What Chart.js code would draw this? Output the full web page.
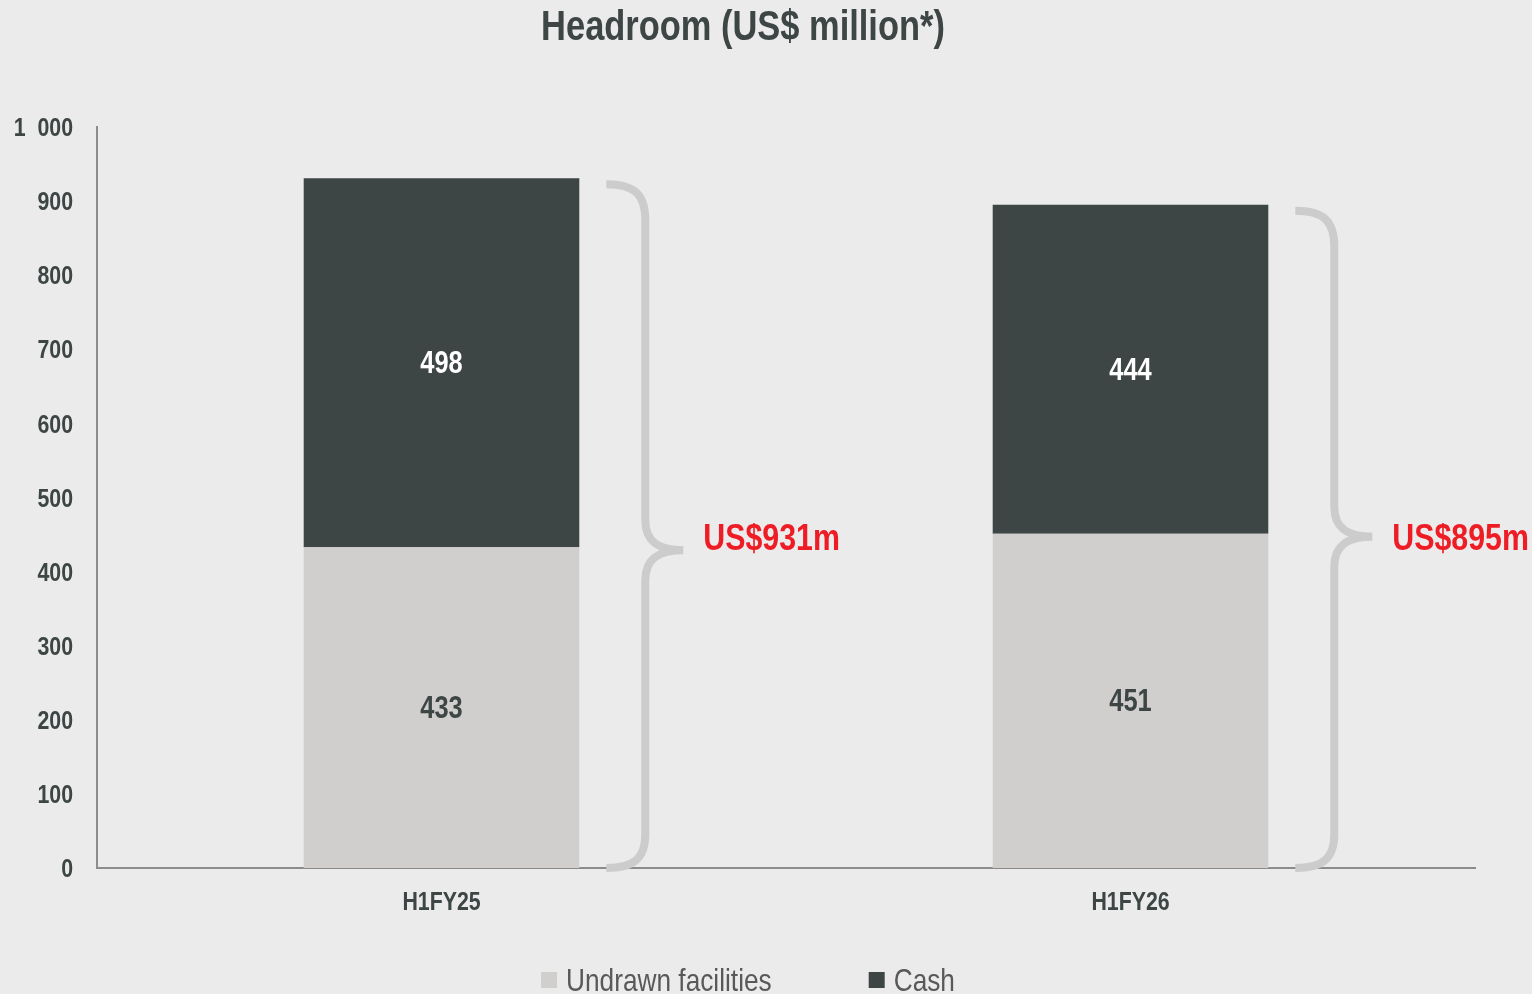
<!DOCTYPE html>
<html>
<head>
<meta charset="utf-8">
<title>Headroom</title>
<script src="https://cdn.jsdelivr.net/npm/chart.js@4.4.1/dist/chart.umd.min.js"></script>
<style>
  html, body { margin: 0; padding: 0; background: #ebebeb; }
  #wrap { width: 1532px; height: 994px; }
</style>
</head>
<body>
<div id="wrap"><canvas id="headroomChart" width="1532" height="994"></canvas></div>
<script>
// Значения по периодам (US$ млн)
var periods = ['H1FY25', 'H1FY26'];
var undrawn = [433, 451];
var cash = [498, 444];
var totals = [931, 895];
var totalLabels = ['US$931m', 'US$895m'];

// Деления оси Y
var yTicks = [0, 100, 200, 300, 400, 500, 600, 700, 800, 900, 1000];
var yTickLabels = ['0', '100', '200', '300', '400', '500', '600', '700', '800', '900', '1  000'];

var seriesNames = ['Undrawn facilities', 'Cash'];

// узкий шрифт: Liberation Sans, сжатый по горизонтали
var FONT = "'Liberation Sans', Arial, sans-serif";
var NARROW = 0.82;
var DARK = '#3d4645';
var LIGHT = '#d0cfcd';
var RED = '#ee1c25';
var BRACE = '#cccccc';

function narrowText(ctx, text, x, y, align, font, color) {
    ctx.save();
    ctx.font = font;
    ctx.fillStyle = color;
    ctx.textBaseline = 'middle';
    var w = ctx.measureText(text).width * NARROW;
    var left = align === 'center' ? x - w / 2 : align === 'right' ? x - w : x;
    ctx.translate(left, y + 2);
    ctx.scale(NARROW, 1);
    ctx.textAlign = 'left';
    ctx.fillText(text, 0, 0);
    ctx.restore();
    return w;
}

function narrowWidth(ctx, text, font) {
    ctx.save();
    ctx.font = font;
    var w = ctx.measureText(text).width * NARROW;
    ctx.restore();
    return w;
}

// Фигурная скобка справа от столбца
function drawBrace(ctx, x0, x1, x2, top, tip, bottom) {
    ctx.beginPath();
    ctx.moveTo(x0, top);
    ctx.bezierCurveTo(x0 + 28, top, x1, top + 10, x1, top + 36);
    ctx.lineTo(x1, tip - 30);
    ctx.bezierCurveTo(x1, tip - 8, x1 + 14, tip, x2, tip);
    ctx.moveTo(x2, tip);
    ctx.bezierCurveTo(x1 + 14, tip, x1, tip + 8, x1, tip + 30);
    ctx.lineTo(x1, bottom - 34);
    ctx.bezierCurveTo(x1, bottom - 10, x0 + 28, bottom, x0, bottom);
    ctx.stroke();
}

var extras = {
    id: 'extras',
    afterDatasetsDraw: function (chart) {
        var ctx = chart.ctx;
        var y = chart.scales.y;

        // подписи значений внутри сегментов
        chart.data.datasets.forEach(function (ds, di) {
            var meta = chart.getDatasetMeta(di);
            meta.data.forEach(function (bar, i) {
                narrowText(ctx, String(ds.data[i]), bar.x, (bar.y + bar.base) / 2, 'center',
                    'bold 31px ' + FONT, di === 0 ? DARK : '#ffffff');
            });
        });

        // скобки и итоговые суммы (подписи на одной высоте)
        var cashMeta = chart.getDatasetMeta(1);
        var tips = undrawn.map(function (v) { return y.getPixelForValue(v) + 3; });
        var labelY = tips.reduce(function (a, b) { return a + b; }, 0) / tips.length - 6;
        cashMeta.data.forEach(function (bar, i) {
            var right = bar.x + bar.width / 2;
            var x0 = right + 27, x1 = right + 66, x2 = right + 104;
            var top = y.getPixelForValue(totals[i]) + 6;
            var bottom = y.getPixelForValue(0);
            ctx.save();
            ctx.strokeStyle = BRACE;
            ctx.lineWidth = 8;
            ctx.lineCap = 'butt';
            drawBrace(ctx, x0, x1, x2, top, tips[i], bottom);
            ctx.restore();
            narrowText(ctx, totalLabels[i], x2 + 20, labelY, 'left', 'bold 37px ' + FONT, RED);
        });
    },
    afterDraw: function (chart) {
        var ctx = chart.ctx;
        var xs = chart.scales.x, ys = chart.scales.y;

        // подписи осей
        yTicks.forEach(function (v, i) {
            narrowText(ctx, yTickLabels[i], chart.chartArea.left - 24, ys.getPixelForValue(v), 'right',
                'bold 26px ' + FONT, DARK);
        });
        periods.forEach(function (p, i) {
            narrowText(ctx, p, xs.getPixelForValue(i), chart.chartArea.bottom + 33, 'center',
                'bold 26px ' + FONT, DARK);
        });

        // заголовок
        narrowText(ctx, 'Headroom (US$ million*)', chart.width / 2 - 23, 26, 'center',
            'bold 42px ' + FONT, DARK);

        // легенда внизу
        var lf = '32px ' + FONT;
        var colors = [LIGHT, DARK];
        var box = 16, gap = 9, spacing = 97;
        var total = 0;
        seriesNames.forEach(function (n, i) {
            total += box + gap + narrowWidth(ctx, n, lf) + (i < seriesNames.length - 1 ? spacing : 0);
        });
        var x = chart.width / 2 - 18 - total / 2;
        var cy = 980;
        seriesNames.forEach(function (n, i) {
            ctx.fillStyle = colors[i];
            ctx.fillRect(x, cy - box / 2, box, box);
            x += box + gap;
            x += narrowText(ctx, n, x, cy, 'left', lf, '#595959') + spacing;
        });
    }
};

var headroomChart = new Chart(document.getElementById('headroomChart').getContext('2d'), {
    type: 'bar',
    data: {
        labels: periods,
        datasets: [{
            label: seriesNames[0],
            data: undrawn,
            backgroundColor: LIGHT,
            borderWidth: 0
        }, {
            label: seriesNames[1],
            data: cash,
            backgroundColor: DARK,
            borderWidth: 0
        }]
    },
    options: {
        responsive: false,
        animation: false,
        events: [],
        categoryPercentage: 1.0,
        barPercentage: 0.4,
        layout: {
            padding: { top: 127, right: 57, left: 0, bottom: 0 }
        },
        scales: {
            x: {
                stacked: true,
                grid: { display: false, drawTicks: false },
                border: { display: true, color: '#8c8c8c', width: 2 },
                ticks: { display: false },
                afterFit: function (scale) { scale.height = 126; }
            },
            y: {
                stacked: true,
                min: 0,
                max: 1000,
                afterBuildTicks: function (scale) {
                    scale.ticks = yTicks.map(function (v) { return { value: v }; });
                },
                grid: { display: false, drawTicks: false },
                border: { display: true, color: '#8c8c8c', width: 2 },
                ticks: { display: false },
                afterFit: function (scale) { scale.width = 97; }
            }
        },
        plugins: {
            legend: { display: false },
            tooltip: { enabled: false },
            title: { display: false }
        }
    },
    plugins: [extras]
});
</script>
</body>
</html>
